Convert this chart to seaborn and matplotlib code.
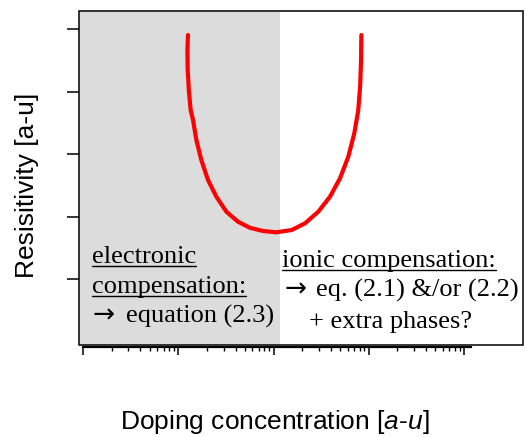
import matplotlib
matplotlib.use('Agg')
import matplotlib.pyplot as plt
import matplotlib.ticker as mticker
from matplotlib.lines import Line2D
from matplotlib.patches import Rectangle
import seaborn as sns

# curve: log10(doping) vs resistivity, arbitrary units
log_doping = [1.102, 1.096, 1.099, 1.111, 1.130, 1.155, 1.190, 1.242, 1.312, 1.400,
              1.505, 1.627, 1.750, 1.890, 2.029, 2.191, 2.331, 2.470, 2.593, 2.698,
              2.785, 2.848, 2.890, 2.910, 2.919, 2.922]
resistivity = [4.904, 4.664, 4.344, 4.024, 3.704, 3.544, 3.224, 2.904, 2.584, 2.317,
               2.077, 1.917, 1.821, 1.768, 1.747, 1.784, 1.891, 2.077, 2.317, 2.611,
               2.957, 3.331, 3.704, 4.104, 4.504, 4.904]

# electronic / ionic boundary (log10 doping)
boundary = 2.068
y_ticks = [1, 2, 3, 4, 5]
decades = [0, 1, 2, 3, 4]

left_lines = ['electronic', 'compensation:', 'equation (2.3)']
right_lines = ['ionic compensation:', 'eq. (2.1) &/or (2.2)', '+ extra phases?']
arrow = '\u2192'

W, H = 526, 437

sns.set_theme(style='white')
plt.rcParams['font.family'] = ['Liberation Sans', 'DejaVu Sans']
plt.rcParams['mathtext.fontset'] = 'custom'
plt.rcParams['mathtext.rm'] = 'Liberation Sans'
plt.rcParams['mathtext.it'] = 'Liberation Sans:italic'

fig = plt.figure(figsize=(W / 100, H / 100), dpi=100)
ax = fig.add_axes([79 / W, 1 - 345 / H, 444 / W, 334 / H])

xmin, xmax = 10 ** -0.042, 10 ** 4.619
ax.set_xscale('log')
ax.set_xlim(xmin, xmax)
ax.set_ylim(-0.056, 5.288)

# shaded electronic region
ax.axvspan(xmin, 10 ** boundary, color='#dcdcdc', lw=0, zorder=0)

x_vals = [10 ** v for v in log_doping]
sns.lineplot(x=x_vals, y=resistivity, sort=False, estimator=None,
             color='red', linewidth=3, ax=ax, zorder=3)

# ticks
ax.set_yticks(y_ticks)
ax.set_yticklabels([])
ax.xaxis.set_major_locator(mticker.FixedLocator([10.0 ** d for d in decades]))
minors = [k * 10.0 ** d for d in decades[:-1] for k in range(2, 10)]
ax.xaxis.set_minor_locator(mticker.FixedLocator(minors))
ax.xaxis.set_major_formatter(mticker.NullFormatter())
ax.xaxis.set_minor_formatter(mticker.NullFormatter())
ax.tick_params(axis='y', direction='out', length=9, width=1.1, color='black', left=True)
ax.tick_params(axis='x', which='major', direction='out', length=6, width=1.1,
               color='black', bottom=True)
ax.tick_params(axis='x', which='minor', direction='out', length=3, width=1.0,
               color='black', bottom=True)

# frame box, bottom spine is the shorter axis line
for s in ['top', 'right', 'left']:
    ax.spines[s].set_visible(False)
ax.spines['bottom'].set_bounds(1, 10 ** 4.07)
ax.spines['bottom'].set_position(('outward', 1.5))
ax.spines['bottom'].set_linewidth(1.6)
ax.spines['bottom'].set_color('black')
ax.add_patch(Rectangle((0, 0), 1, 1, transform=ax.transAxes, fill=False,
                       edgecolor='black', linewidth=1.1, clip_on=False, zorder=5))

ax.set_xlabel(r'Doping concentration [$\mathit{a}$-$\mathit{u}$]', fontsize=19,
              color='black', va='center')
ax.xaxis.set_label_coords((275 - 79) / 444, (345 - 422) / 334)
ax.set_ylabel('Resisitivity [a-u]', fontsize=19, color='black', va='center')
ax.yaxis.set_label_coords((27 - 79) / 444, (345 - 185) / 334)

# annotation text, positions in pixels (left, baseline)
serif = ['Liberation Serif', 'DejaVu Serif']
left_pos = [(92, 263), (92, 292.7), (125.7, 322.7)]
right_pos = [(282, 266.7), (315.7, 296.7), (309, 327.7)]
arrows = [(93, 322.7), (284, 296.7)]
underlined = []
for lines, pos, n_under in [(left_lines, left_pos, 2), (right_lines, right_pos, 1)]:
    for i, (txt, (px, py)) in enumerate(zip(lines, pos)):
        t = fig.text(px / W, 1 - py / H, txt, family=serif, fontsize=19,
                     color='black', ha='left', va='baseline', zorder=6)
        if i < n_under:
            underlined.append((t, py + 3))
for px, py in arrows:
    fig.text(px / W, 1 - py / H, arrow, family='DejaVu Sans', fontsize=19,
             color='black', ha='left', va='baseline', zorder=6)

fig.canvas.draw()
renderer = fig.canvas.get_renderer()
for t, uy in underlined:
    bb = t.get_window_extent(renderer)
    fig.add_artist(Line2D([bb.x0 / W, bb.x1 / W], [1 - uy / H, 1 - uy / H],
                          transform=fig.transFigure, color='black', lw=1.0))

fig.savefig('out.png', dpi=100)
